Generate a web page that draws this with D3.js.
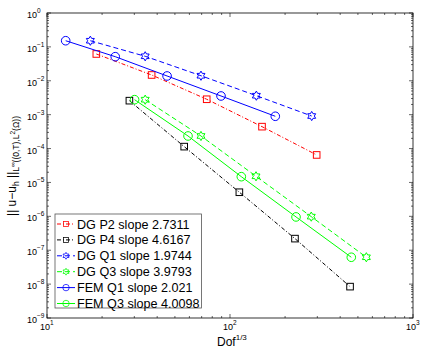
<!DOCTYPE html>
<html>
<head>
<meta charset="utf-8">
<script src="https://cdn.jsdelivr.net/npm/d3@7"></script>
<style>
  body { margin: 0; background: #fff; }
  svg { display: block; font-family: "Liberation Sans", Arial, sans-serif; }
</style>
</head>
<body>
<div id="chart"></div>
<script>
// values (log-log convergence plot)
const dgP2X = [18.6, 37.3, 74.6, 149.6, 297.6];
const dgP2Y = [0.0618, 0.01483, 0.00285, 0.000443, 6.48e-5];
const dgP4X = [28.2, 56.2, 112.5, 226.5, 452.9];
const dgP4Y = [0.00259, 1.14e-4, 5.14e-6, 2.2e-7, 8.43e-9];
const dgQ1X = [17.25, 34.4, 69.4, 139.3, 279.5];
const dgQ1Y = [0.152, 0.0528, 0.0141, 0.00363, 0.000912];
const dgQ3X = [34.4, 69.4, 138.7, 278, 556];
const dgQ3Y = [0.00277, 2.35e-4, 1.52e-5, 9.8e-7, 6.2e-8];
const femQ1X = [12.65, 23.6, 45.3, 89.3, 176.8];
const femQ1Y = [0.152, 0.0514, 0.01386, 0.00356, 0.000897];
const femQ3X = [30.1, 58.96, 115.3, 229.5, 460];
const femQ3Y = [0.00277, 2.35e-4, 1.48e-5, 9.6e-7, 6.2e-8];

const seriesNames = ["DG P2 slope 2.7311", "DG P4 slope 4.6167", "DG Q1 slope 1.9744",
                     "DG Q3 slope 3.9793", "FEM Q1 slope 2.021", "FEM Q3 slope 4.0098"];

const xDecades = [1, 2, 3];
const yDecades = [0, -1, -2, -3, -4, -5, -6, -7, -8, -9];

const W = 421, H = 349;
const margin = { top: 13, right: 8, bottom: 31, left: 47 };
const iw = W - margin.left - margin.right;
const ih = H - margin.top - margin.bottom;

const series = [
  { name: seriesNames[0], xs: dgP2X, ys: dgP2Y, color: "#ff0000", dash: "4,2,1,2", marker: "square" },
  { name: seriesNames[1], xs: dgP4X, ys: dgP4Y, color: "#000000", dash: "4,2,1,2", marker: "square" },
  { name: seriesNames[2], xs: dgQ1X, ys: dgQ1Y, color: "#0000ff", dash: "5,3", marker: "hexagram" },
  { name: seriesNames[3], xs: dgQ3X, ys: dgQ3Y, color: "#00ff00", dash: "5,3", marker: "hexagram" },
  { name: seriesNames[4], xs: femQ1X, ys: femQ1Y, color: "#0000ff", dash: null, marker: "circle" },
  { name: seriesNames[5], xs: femQ3X, ys: femQ3Y, color: "#00ff00", dash: null, marker: "circle" }
];

const svg = d3.select("#chart").append("svg")
  .attr("width", W).attr("height", H);

const g = svg.append("g").attr("transform", `translate(${margin.left},${margin.top})`);

const x = d3.scaleLog().domain([10, 1000]).range([0, iw]);
const y = d3.scaleLog().domain([1e-9, 1]).range([ih, 0]);

// ticks: major at decades, minor at 2..9
function logTicks(lo, hi) {
  const out = [];
  for (let e = lo; e < hi; e++) {
    for (let m = 2; m <= 9; m++) out.push(m * Math.pow(10, e));
  }
  return out;
}
const xMajor = xDecades.map(e => Math.pow(10, e));
const yMajor = yDecades.map(e => Math.pow(10, e));
const xMinor = logTicks(1, 3);
const yMinor = logTicks(-9, 0);

const tickG = g.append("g").attr("stroke", "#000").attr("stroke-width", 0.6);
function vTicks(vals, len) {
  vals.forEach(v => {
    const px = x(v);
    tickG.append("line").attr("x1", px).attr("x2", px).attr("y1", ih).attr("y2", ih - len);
    tickG.append("line").attr("x1", px).attr("x2", px).attr("y1", 0).attr("y2", len);
  });
}
function hTicks(vals, len) {
  vals.forEach(v => {
    const py = y(v);
    tickG.append("line").attr("x1", 0).attr("x2", len).attr("y1", py).attr("y2", py);
    tickG.append("line").attr("x1", iw).attr("x2", iw - len).attr("y1", py).attr("y2", py);
  });
}
vTicks(xMajor, 4); vTicks(xMinor, 2);
hTicks(yMajor, 4); hTicks(yMinor, 2);

// box
g.append("rect").attr("width", iw).attr("height", ih)
  .attr("fill", "none").attr("stroke", "#000").attr("stroke-width", 0.8);

// tick labels (10 with superscript)
function powLabel(sel, e) {
  sel.append("tspan").text("10");
  sel.append("tspan").attr("dy", -5).attr("font-size", 6.5).text(e < 0 ? "\u2212" + (-e) : e);
}
yDecades.forEach(e => {
  const t = g.append("text").attr("x", -20).attr("y", y(Math.pow(10, e)) + 5)
    .attr("font-size", 9).attr("text-anchor", "start").attr("fill", "#000");
  powLabel(t, e);
});
xDecades.forEach(e => {
  const t = g.append("text").attr("x", x(Math.pow(10, e)) - 7).attr("y", ih + 12)
    .attr("font-size", 9).attr("fill", "#000");
  powLabel(t, e);
});

// axis titles
const xl = svg.append("text").attr("x", margin.left + x(100) - 13).attr("y", 346)
  .attr("font-size", 12).attr("fill", "#000");
xl.append("tspan").text("Dof");
xl.append("tspan").attr("dy", -6).attr("font-size", 8).text("1/3");

const yl = svg.append("text")
  .attr("transform", `translate(16,166) rotate(-90)`)
  .attr("text-anchor", "middle").attr("font-size", 12).attr("fill", "#000");
yl.append("tspan").text("|| u\u2212u");
yl.append("tspan").attr("dy", 3).attr("font-size", 8.5).text("h");
yl.append("tspan").attr("dy", -3).text(" ||");
yl.append("tspan").attr("dy", 3).attr("font-size", 8.5).text("L");
yl.append("tspan").attr("dy", -4).attr("font-size", 6.5).text("\u221e");
yl.append("tspan").attr("dy", 4).attr("font-size", 8.5).text("((0,T),L");
yl.append("tspan").attr("dy", -4).attr("font-size", 6.5).text("2");
yl.append("tspan").attr("dy", 4).attr("font-size", 8.5).text("(\u03a9))");

// markers
function hexagramPath(r) {
  const pts = [];
  for (let i = 0; i < 12; i++) {
    const a = Math.PI / 2 + i * Math.PI / 6;
    const rr = i % 2 === 0 ? r : r / Math.sqrt(3);
    pts.push([rr * Math.cos(a), -rr * Math.sin(a)]);
  }
  return "M" + pts.map(p => p.join(",")).join("L") + "Z";
}
function drawMarker(sel, type, color) {
  if (type === "square") {
    sel.append("rect").attr("x", -3.3).attr("y", -3.3).attr("width", 6.6).attr("height", 6.6)
      .attr("fill", "none").attr("stroke", color).attr("stroke-width", 1);
  } else if (type === "circle") {
    sel.append("circle").attr("r", 4.3)
      .attr("fill", "none").attr("stroke", color).attr("stroke-width", 1);
  } else {
    sel.append("path").attr("d", hexagramPath(4.6))
      .attr("fill", "none").attr("stroke", color).attr("stroke-width", 1);
  }
}

const line = d3.line().x(d => x(d[0])).y(d => y(d[1]));

series.forEach(s => {
  const pts = s.xs.map((v, i) => [v, s.ys[i]]);
  g.append("path").datum(pts).attr("d", line)
    .attr("fill", "none").attr("stroke", s.color).attr("stroke-width", 1)
    .attr("stroke-dasharray", s.dash);
  pts.forEach(p => {
    const m = g.append("g").attr("transform", `translate(${x(p[0])},${y(p[1])})`);
    drawMarker(m, s.marker, s.color);
  });
});

// legend
const lg = svg.append("g").attr("transform", "translate(55,214)");
lg.append("rect").attr("width", 146.5).attr("height", 94)
  .attr("fill", "#fff").attr("stroke", "#555").attr("stroke-width", 0.8);
series.forEach((s, i) => {
  const ry = 10 + i * 15.9;
  lg.append("line").attr("x1", 2).attr("x2", 20).attr("y1", ry).attr("y2", ry)
    .attr("stroke", s.color).attr("stroke-width", 1).attr("stroke-dasharray", s.dash);
  const m = lg.append("g").attr("transform", `translate(11,${ry}) scale(0.75)`);
  drawMarker(m, s.marker, s.color);
  lg.append("text").attr("x", 22).attr("y", ry + 4.5).attr("font-size", 12.6)
    .attr("fill", "#000").text(s.name);
});
</script>
</body>
</html>
